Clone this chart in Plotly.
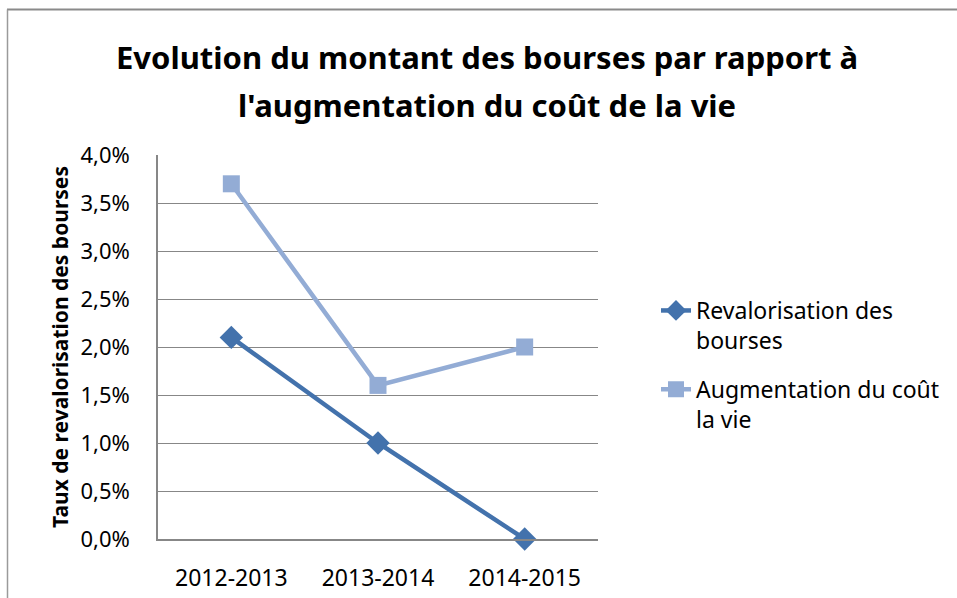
import plotly.graph_objects as go

categories = ["2012-2013", "2013-2014", "2014-2015"]
revalorisation = [0.021, 0.010, 0.000]
cout_vie = [0.037, 0.016, 0.020]
y_ticks = [0, 0.005, 0.01, 0.015, 0.02, 0.025, 0.03, 0.035, 0.04]
title_lines = ["Evolution du montant des bourses par rapport à",
               "l'augmentation du coût de la vie"]

DARK = "#4372AC"
LIGHT = "#93ACD5"
GRID = "#878787"
FONT = "Noto Sans"

fig = go.Figure()
fig.add_trace(go.Scatter(
    x=categories, y=revalorisation, mode="lines+markers",
    name="Revalorisation des<br>bourses", legendgroup="a",
    line=dict(color=DARK, width=4.5),
    marker=dict(symbol="diamond", size=18, color=DARK),
    cliponaxis=False,
))
fig.add_trace(go.Scatter(
    x=categories, y=cout_vie, mode="lines+markers",
    name="Augmentation du coût<br>la vie", legendgroup="b",
    line=dict(color=LIGHT, width=4.5),
    marker=dict(symbol="square", size=17, color=LIGHT),
    cliponaxis=False,
))

W, H = 957, 598
L, R, T, B = 158, 359, 155, 59
pw, ph = W - L - R, H - T - B

def px(x):
    return (x - L) / pw

def py(y):
    return (H - B - y) / ph

# chart-area border (top and left edges)
fig.add_shape(type="line", xref="paper", yref="paper",
              x0=px(7), x1=px(960), y0=py(9.5), y1=py(9.5),
              line=dict(color="#8A8A8A", width=2))
fig.add_shape(type="line", xref="paper", yref="paper",
              x0=px(7.5), x1=px(7.5), y0=py(9.5), y1=py(600),
              line=dict(color="#9A9A9A", width=1.5))

# two-line title
for text, yc in zip(title_lines, [57, 105]):
    fig.add_annotation(text=f"<b>{text}</b>", xref="paper", yref="paper",
                       x=px(487), y=py(yc), xanchor="center", yanchor="middle",
                       showarrow=False,
                       font=dict(family=FONT, size=31, color="black"))

fig.update_layout(
    width=W, height=H,
    margin=dict(l=L, r=R, t=T, b=B, autoexpand=False),
    paper_bgcolor="white", plot_bgcolor="white",
    separators=", ",
    font=dict(family=FONT, color="black", size=22),
    xaxis=dict(
        type="category", range=[-0.5, 2.5],
        showgrid=False, showline=True, linecolor=GRID, linewidth=1.5,
        ticks="", ticklabelstandoff=18,
        tickfont=dict(family=FONT, size=23, color="black"),
        fixedrange=True,
    ),
    yaxis=dict(
        range=[0, 0.04], tickvals=y_ticks, tickformat=".1%",
        showgrid=True, gridcolor=GRID, gridwidth=1,
        showline=True, linecolor=GRID, linewidth=1.5,
        zeroline=False, ticks="", ticklabelstandoff=22,
        tickfont=dict(family=FONT, size=22, color="black"),
        title=dict(text="<b>Taux de revalorisation des bourses</b>",
                   font=dict(family=FONT, size=21, color="black"),
                   standoff=6),
        fixedrange=True,
    ),
    legend=dict(
        x=px(656), xanchor="left", y=py(289), yanchor="top",
        valign="top", bgcolor="rgba(0,0,0,0)",
        font=dict(family=FONT, size=23, color="black"),
        tracegroupgap=16, traceorder="grouped",
    ),
    showlegend=True,
)

fig.write_html("out.html", config={"displayModeBar": False},
               post_script="document.body.style.margin='0';")
